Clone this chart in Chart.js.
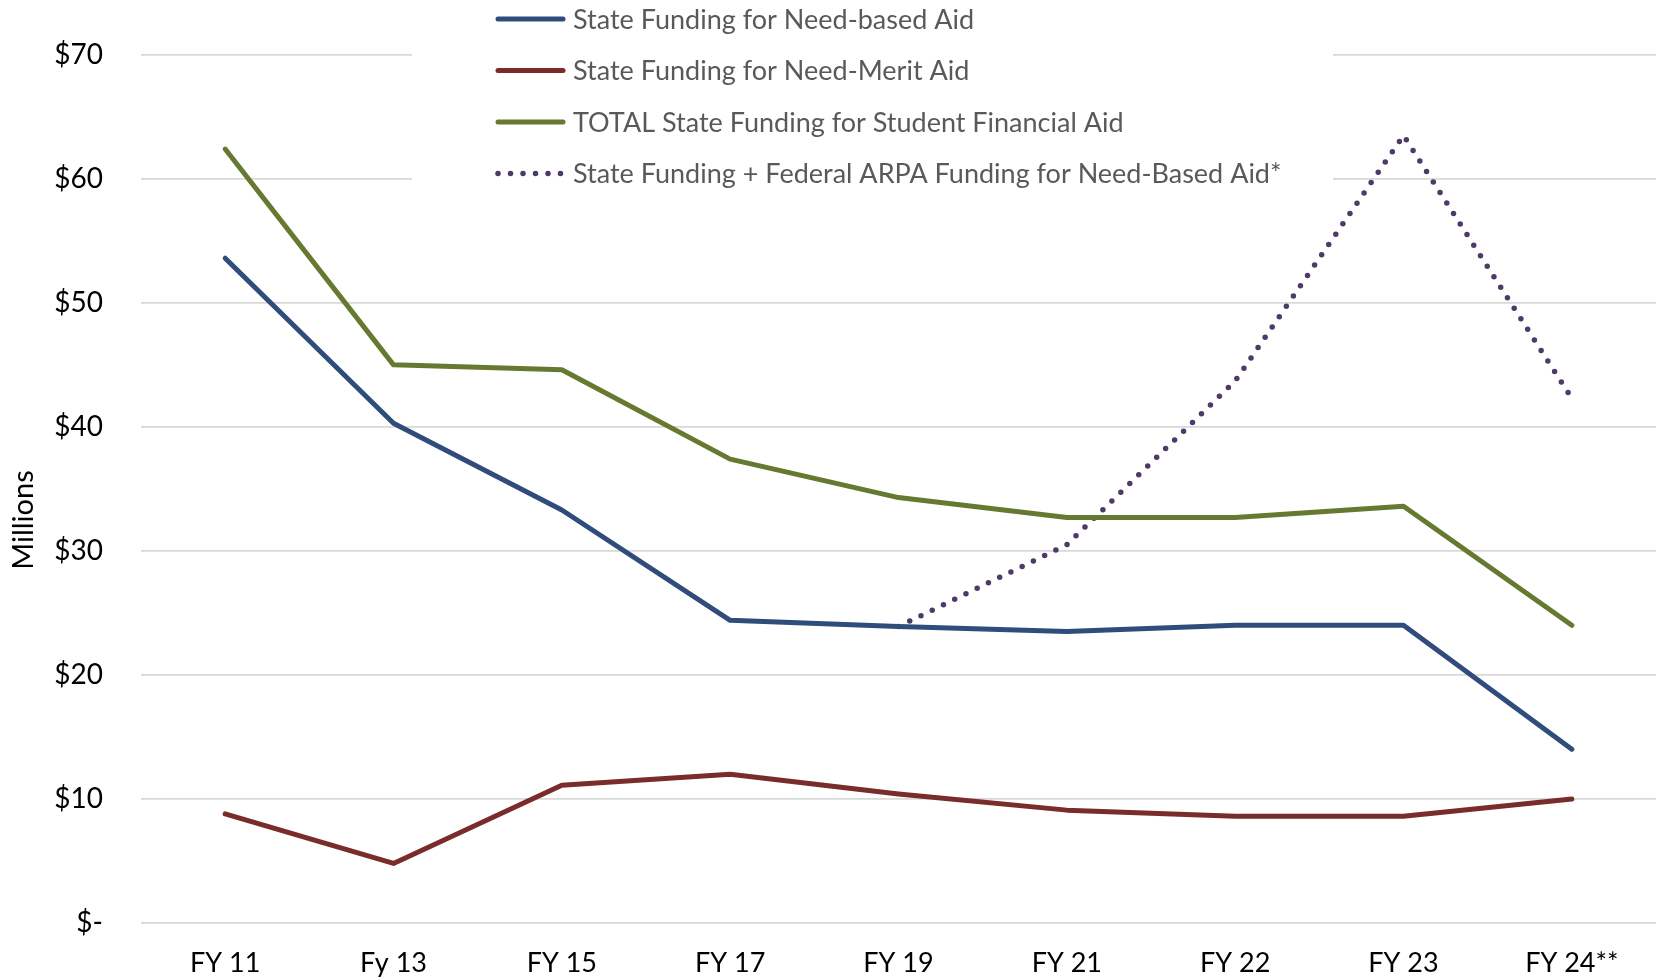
<!DOCTYPE html>
<html>
<head>
<meta charset="utf-8">
<title>State Funding for Student Financial Aid</title>
<script src="https://cdn.jsdelivr.net/npm/chart.js@4.4.1/dist/chart.umd.min.js"></script>
<style>
  html, body { margin: 0; padding: 0; background: #fff; }
  #wrap { width: 1656px; height: 980px; position: relative; }
</style>
</head>
<body>
<div id="wrap"><canvas id="aid-chart" width="1656" height="980"></canvas></div>
<script>
// Values in millions of dollars
const years = ['FY 11', 'Fy 13', 'FY 15', 'FY 17', 'FY 19', 'FY 21', 'FY 22', 'FY 23', 'FY 24**'];
const needBased = [53.6, 40.3, 33.3, 24.4, 23.9, 23.5, 24.0, 24.0, 14.0];
const needMerit = [8.8, 4.8, 11.1, 12.0, 10.4, 9.1, 8.6, 8.6, 10.0];
const totalAid = [62.4, 45.0, 44.6, 37.4, 34.3, 32.7, 32.7, 33.6, 24.0];
const withArpa = [null, null, null, null, 23.9, 30.5, 43.7, 63.5, 42.3];
const yTicks = [0, 10, 20, 30, 40, 50, 60, 70];

(function() {
    const FONT = 'Lato, "Open Sans", sans-serif';
    const canvas = document.getElementById('aid-chart');

    // Legend sits on a white box above the plot, covering the top gridlines
    const boxLegend = {
        id: 'boxLegend',
        beforeDatasetsDraw(chart) {
            const ctx = chart.ctx;
            const x0 = 412, top = 0, w = 921, h = 196;
            ctx.save();
            ctx.fillStyle = '#ffffff';
            ctx.fillRect(x0, top, w, h);
            ctx.font = '27px ' + FONT;
            ctx.textBaseline = 'middle';
            chart.data.datasets.forEach((ds, i) => {
                const y = 19 + i * 51.5;
                ctx.strokeStyle = ds.borderColor;
                ctx.lineWidth = ds.borderWidth;
                ctx.lineCap = 'round';
                ctx.setLineDash(ds.borderDash || []);
                ctx.beginPath();
                ctx.moveTo(498, y);
                ctx.lineTo(563, y);
                ctx.stroke();
                ctx.setLineDash([]);
                ctx.fillStyle = '#595959';
                ctx.fillText(ds.label, 573, y + 1);
            });
            ctx.restore();
        },
        // y axis title sits a little below the middle of the axis
        afterDraw(chart) {
            const ctx = chart.ctx;
            ctx.save();
            ctx.translate(24, 520);
            ctx.rotate(-Math.PI / 2);
            ctx.font = '29px ' + FONT;
            ctx.fillStyle = '#000';
            ctx.textAlign = 'center';
            ctx.textBaseline = 'middle';
            ctx.fillText('Millions', 0, 0);
            ctx.restore();
        }
    };

    const line = (label, data, color, extra) => Object.assign({
        label,
        data,
        borderColor: color,
        backgroundColor: color,
        borderWidth: 5,
        pointRadius: 0,
        tension: 0,
        borderCapStyle: 'round',
        borderJoinStyle: 'round',
        fill: false,
    }, extra || {});

    new Chart(canvas.getContext('2d'), {
        type: 'line',
        data: {
            labels: years,
            datasets: [
                line('State Funding for Need-based Aid', needBased, '#2F4C7A'),
                line('State Funding for Need-Merit Aid', needMerit, '#7A2C2B'),
                line('TOTAL State Funding for Student Financial Aid', totalAid, '#657A30'),
                line('State Funding + Federal ARPA Funding for Need-Based Aid*', withArpa, '#4E3A69', {
                    borderDash: [0, 12.5],
                    borderWidth: 5.5,
                }),
            ]
        },
        options: {
            responsive: false,
            animation: false,
            layout: { padding: { top: 53, right: 0, bottom: 0, left: 8 } },
            plugins: {
                legend: { display: false },
                tooltip: { enabled: false }
            },
            scales: {
                x: {
                    offset: true,
                    afterFit(axis) { axis.height = 57; },
                    grid: { display: false, drawTicks: false },
                    border: { display: false },
                    ticks: {
                        color: '#000',
                        font: { family: FONT, size: 27 },
                        padding: 24,
                        maxRotation: 0,
                        autoSkip: false
                    }
                },
                y: {
                    min: yTicks[0],
                    max: yTicks[yTicks.length - 1],
                    afterBuildTicks(axis) {
                        axis.ticks = yTicks.map(v => ({ value: v }));
                    },
                    afterFit(axis) { axis.width = 133; },
                    grid: { color: '#D9D9D9', lineWidth: 1.8, drawTicks: false },
                    border: { display: false },
                    ticks: {
                        color: '#000',
                        font: { family: FONT, size: 28 },
                        padding: 38,
                        callback: (v) => v === 0 ? '$-' : '$' + v
                    }
                }
            }
        },
        plugins: [boxLegend]
    });
})();
</script>
</body>
</html>
